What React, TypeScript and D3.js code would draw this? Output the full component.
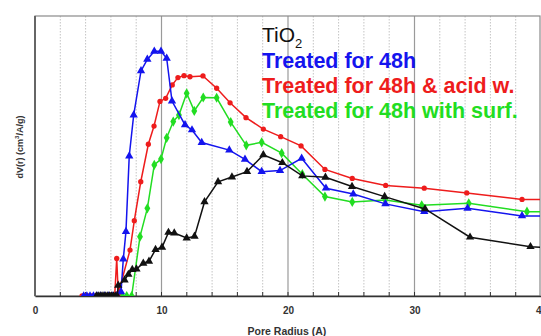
import React, { useEffect, useRef } from 'react';
import * as d3 from 'd3';

// Pore radius (A) vs dV(r), arbitrary units (0-100 of the plot height)
const untreated: [number, number][] = [
  [4.85, 0], [5.0, 0], [5.15, 0], [5.3, 0], [5.45, 0], [5.6, 0], [5.75, 0], [5.9, 0],
  [6.05, 0], [6.2, 0], [6.35, 0], [6.5, 0], [6.58, 3.8], [7.08, 5.7], [7.38, 7.7],
  [7.69, 9.4], [8.02, 9.6], [8.56, 11.7], [9.01, 12.4], [9.53, 16.6], [10.04, 17.4],
  [10.55, 22.7], [11.01, 22.5], [11.99, 20.7], [12.61, 21.3], [13.4, 33.6], [14.47, 40.8],
  [15.57, 42.5], [16.76, 44.4], [18.05, 50.4], [19.55, 47.6], [21.13, 42.9], [22.96, 42.4],
  [25.06, 39.1], [27.64, 35.5], [30.83, 31.1], [34.39, 21.0], [39.17, 17.6], [43.5, 16.6],
];

const treated48h: [number, number][] = [
  [3.85, 0], [4.1, 0], [4.35, 0], [4.62, 0], [4.9, 0], [5.2, 0], [5.5, 0], [5.8, 0],
  [6.1, 0], [6.45, 0], [6.8, 1.5], [6.98, 13.2], [7.19, 23.0], [7.45, 50.0], [7.8, 64.6],
  [8.38, 80.4], [8.88, 84.5], [9.43, 87.4], [9.96, 87.4], [10.41, 84.9], [10.83, 69.6],
  [11.86, 61.1], [12.41, 59.3], [13.18, 54.8], [15.36, 52.1], [16.6, 48.8], [17.92, 44.4],
  [19.37, 44.8], [21.08, 49.2], [23.0, 38.5], [25.16, 36.4], [27.7, 32.9], [30.77, 30.1],
  [34.19, 31.3], [38.5, 28.6], [43.5, 28.6],
];

const acidWashed: [number, number][] = [
  [3.72, 0], [3.98, 0], [4.25, 0], [4.5, 0], [4.78, 0], [5.05, 0], [5.3, 0], [5.58, 0],
  [5.85, 0], [6.12, 0], [6.3, 0], [6.46, 13.4], [6.58, 0.9], [7.51, 16.4], [7.85, 26.9],
  [8.36, 40.8], [8.96, 54.2], [9.41, 60.7], [9.88, 69.5], [10.33, 70.6], [10.85, 75.4],
  [11.3, 78.0], [11.78, 78.7], [12.25, 78.3], [13.28, 78.6], [14.36, 74.2], [15.42, 69.0],
  [16.68, 63.7], [18.05, 59.6], [19.42, 56.9], [21.03, 53.6], [22.92, 45.2], [25.08, 42.0],
  [27.72, 39.5], [30.77, 38.5], [34.13, 36.8], [38.5, 34.5], [43.5, 34.4],
];

const withSurf: [number, number][] = [
  [6.9, 0], [7.25, 0], [7.64, 0], [8.3, 21.2], [8.88, 31.3], [9.43, 46.8], [9.96, 48.9],
  [10.41, 56.5], [10.93, 62.3], [11.38, 64.6], [11.99, 72.4], [12.59, 66.1], [13.3, 70.9],
  [14.36, 70.8], [15.47, 62.1], [16.7, 53.8], [17.92, 54.9], [19.5, 51.0], [21.13, 43.5],
  [22.92, 35.5], [25.08, 33.6], [27.69, 34.3], [30.57, 32.4], [34.29, 33.1], [38.89, 30.1],
  [43.5, 30.1],
];

const legendLabels = ['Treated for 48h', 'Treated for 48h & acid w.', 'Treated for 48h with surf.'];
const xTicks = [0, 10, 20, 30, 40];

const W = 541;
const H = 336;

const App = () => {
  const svgRef = useRef<SVGSVGElement>(null);

  useEffect(() => {
    const svg = d3.select(svgRef.current);
    svg.selectAll('*').remove();

    const left = 35, right = 540, top = 16, bottom = 296;
    const x = d3.scaleLinear().domain([0, 40]).range([left, 541]);
    const y = d3.scaleLinear().domain([0, 100]).range([bottom, top]);

    svg.append('rect').attr('width', W).attr('height', H).attr('fill', '#fff');

    svg.append('clipPath').attr('id', 'plot-clip')
      .append('rect')
      .attr('x', left).attr('y', top)
      .attr('width', right - left).attr('height', bottom - top);

    // grid
    const grid = svg.append('g');
    d3.range(2, 40, 2).forEach(v => {
      const major = v % 10 === 0;
      grid.append('line')
        .attr('x1', x(v)).attr('x2', x(v))
        .attr('y1', top).attr('y2', bottom)
        .attr('stroke', major ? '#9a9a9a' : '#c4c4c4')
        .attr('stroke-width', major ? 1.2 : 1)
        .attr('stroke-dasharray', major ? null : '1.5,1.5');
    });

    // frame
    svg.append('rect')
      .attr('x', left).attr('y', top)
      .attr('width', right - left).attr('height', bottom - top)
      .attr('fill', 'none')
      .attr('stroke', '#8a8a8a')
      .attr('stroke-width', 1.2);
    svg.append('line')
      .attr('x1', left).attr('x2', left).attr('y1', top).attr('y2', bottom)
      .attr('stroke', '#666').attr('stroke-width', 2);

    // bottom axis
    const axis = svg.append('g')
      .attr('transform', `translate(0,${bottom})`)
      .call(d3.axisBottom(x).tickValues(xTicks).tickSize(0).tickPadding(11).tickFormat(d3.format('d')));
    axis.select('.domain').attr('stroke', '#333').attr('stroke-width', 1.6);
    axis.selectAll('text')
      .attr('fill', '#333')
      .attr('font-family', 'Liberation Sans, Arial, sans-serif')
      .attr('font-weight', 'bold')
      .attr('font-size', 10);
    d3.range(2, 40, 2).forEach(v => {
      svg.append('line')
        .attr('x1', x(v)).attr('x2', x(v))
        .attr('y1', bottom).attr('y2', bottom - 4)
        .attr('stroke', '#333').attr('stroke-width', 1);
    });

    svg.append('text')
      .attr('x', 287).attr('y', 335)
      .attr('text-anchor', 'middle')
      .attr('font-family', 'Liberation Sans, Arial, sans-serif')
      .attr('font-weight', 'bold')
      .attr('font-size', 10.5)
      .attr('fill', '#333')
      .text('Pore Radius (A)');

    const yl = svg.append('text')
      .attr('transform', 'translate(23,147) rotate(-90)')
      .attr('text-anchor', 'middle')
      .attr('font-family', 'Liberation Sans, Arial, sans-serif')
      .attr('font-weight', 'bold')
      .attr('font-size', 9)
      .attr('fill', '#333');
    yl.append('tspan').text('dV(r) (cm');
    yl.append('tspan').attr('font-size', 6).attr('dy', -4).text('3');
    yl.append('tspan').attr('dy', 4).text('/A/g)');

    // series
    const line = d3.line<[number, number]>().x(d => x(d[0])).y(d => y(d[1]));
    const plot = svg.append('g').attr('clip-path', 'url(#plot-clip)');

    const series = [
      { data: withSurf, color: '#22dd22', symbol: d3.symbolDiamond, size: 30 },
      { data: acidWashed, color: '#ee1c1c', symbol: d3.symbolCircle, size: 22 },
      { data: treated48h, color: '#1414ee', symbol: d3.symbolTriangle, size: 30 },
      { data: untreated, color: '#111111', symbol: d3.symbolTriangle, size: 30 },
    ];

    series.forEach(s => {
      plot.append('path')
        .datum(s.data)
        .attr('fill', 'none')
        .attr('stroke', s.color)
        .attr('stroke-width', 1.5)
        .attr('d', line);
      plot.selectAll(null)
        .data(s.data)
        .enter()
        .append('path')
        .attr('transform', d => `translate(${x(d[0])},${y(d[1])})`)
        .attr('d', d3.symbol().type(s.symbol).size(s.size)())
        .attr('fill', s.color);
    });

    // legend
    const font = 'Liberation Sans, Arial, sans-serif';
    const tio = svg.append('text')
      .attr('x', 262).attr('y', 42)
      .attr('font-family', font)
      .attr('font-size', 21)
      .attr('fill', '#111');
    tio.append('tspan').text('TiO');
    tio.append('tspan').attr('font-size', 13).attr('dy', 6).text('2');

    const legendColors = ['#1414ee', '#ee1c1c', '#22dd22'];
    legendLabels.forEach((label, i) => {
      svg.append('text')
        .attr('x', 262).attr('y', 68 + i * 25)
        .attr('font-family', font)
        .attr('font-weight', 'bold')
        .attr('font-size', 21.5)
        .attr('fill', legendColors[i])
        .text(label);
    });
  }, []);

  return (
    <div style={{ position: 'fixed', left: 0, top: 0 }}>
      <svg ref={svgRef} width={W} height={H}></svg>
    </div>
  );
};

export default App;
